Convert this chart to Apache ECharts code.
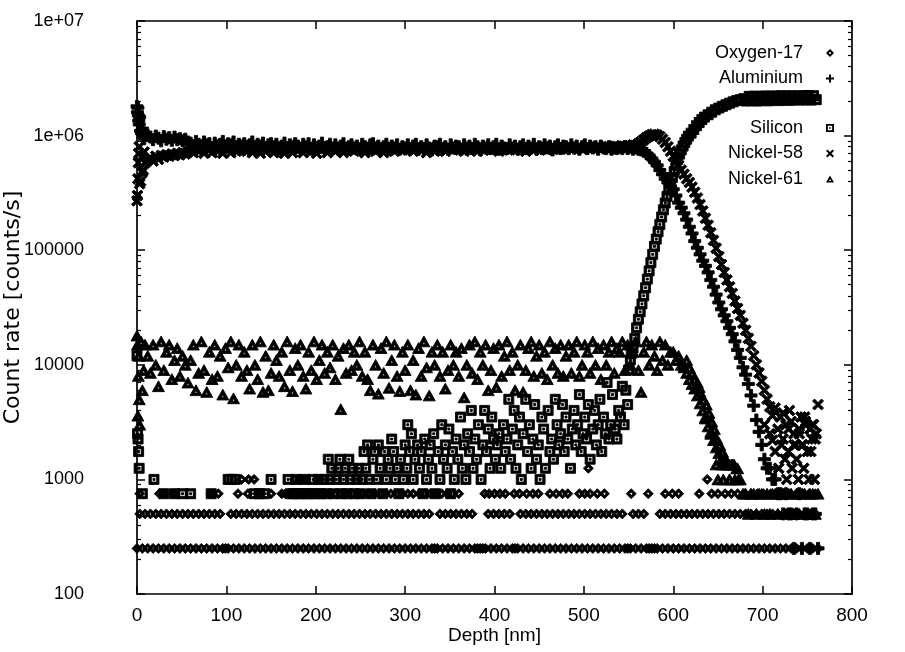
<!DOCTYPE html>
<html><head><meta charset="utf-8">
<script src="https://cdn.jsdelivr.net/npm/echarts@6/dist/echarts.min.js"></script>
<style>html,body{margin:0;padding:0;background:#fff}#c{width:905px;height:652px}</style>
</head><body><div id="c"></div>
<script>
// depth grid [nm]
const depthGrid = [
0,3,6,9,12,15,18,21,24,27,30,33,36,39,42,45,48,51,54,57,
60,63,66,69,72,75,78,81,84,87,90,93,96,99,102,105,108,111,114,117,
120,123,126,129,132,135,138,141,144,147,150,153,156,159,162,165,168,171,174,177,
180,183,186,189,192,195,198,201,204,207,210,213,216,219,222,225,228,231,234,237,
240,243,246,249,252,255,258,261,264,267,270,273,276,279,282,285,288,291,294,297,
300,303,306,309,312,315,318,321,324,327,330,333,336,339,342,345,348,351,354,357,
360,363,366,369,372,375,378,381,384,387,390,393,396,399,402,405,408,411,414,417,
420,423,426,429,432,435,438,441,444,447,450,453,456,459,462,465,468,471,474,477,
480,483,486,489,492,495,498,501,504,507,510,513,516,519,522,525,528,531,534,537,
540,543,546,549,552,555,558,561,564,567,570,573,576,579,582,585,588,591,594,597,
600,603,606,609,612,615,618,621,624,627,630,633,636,639,642,645,648,651,654,657,
660,663,666,669,672,675,678,681,684,687,690,693,696,699,702,705,708,711,714,717,
720,723,726,729,732,735,738,741,744,747,750,753,756,759,762];

const oxygenRate = [
250,500,250,500,250,500,250,500,250,500,250,500,250,500,250,500,250,500,250,500,
250,500,250,500,250,500,250,500,250,500,250,500,250,250,250,500,250,500,250,500,
250,500,250,500,250,500,250,500,250,500,250,500,250,500,250,500,250,500,250,500,
250,500,250,500,250,500,250,500,250,500,250,500,250,500,250,500,250,500,250,500,
250,500,250,500,250,500,250,500,250,500,250,500,250,500,250,500,250,500,250,500,
250,500,250,500,250,500,250,500,250,500,250,250,250,500,250,500,250,500,250,500,
250,500,250,500,250,500,250,250,250,250,250,500,250,500,250,500,250,500,250,500,
250,250,250,500,250,500,250,500,250,500,250,500,250,500,250,500,250,500,250,500,
250,500,250,500,250,500,250,500,250,500,250,500,250,500,250,500,250,500,250,500,
250,500,250,250,250,500,250,500,250,500,250,250,250,250,250,500,250,500,250,500,
250,500,250,500,250,500,250,500,250,500,250,500,250,500,250,500,250,500,250,500,
250,500,250,500,250,500,250,500,250,500,250,500,250,500,250,500,250,500,250,500,
250,500,250,500,250,500,250,500,250,500,250,500,250,500,250];

const oxygenExtraPoints = [
[3,750],[25,750],[30,750],[42,750],[83,750],[91,750],[113,750],[124,750],[150,750],[162,750],
[166,750],[172,750],[178,750],[184,750],[191,750],[197,750],[203,750],[209,750],[216,750],[222,750],
[228,750],[234,750],[241,750],[247,750],[253,750],[259,750],[266,750],[272,750],[278,750],[284,750],
[291,750],[297,750],[303,750],[309,750],[316,750],[322,750],[328,750],[334,750],[341,750],[347,750],
[353,750],[360,750],[389,750],[394,750],[400,750],[406,750],[412,750],[422,750],[428,750],[436,750],
[443,750],[449,750],[462,750],[469,750],[476,750],[482,750],[495,750],[501,750],[507,750],[515,750],
[523,750],[553,750],[572,750],[591,750],[599,750],[606,750],[629,750],[643,750],[650,750],[658,750],
[665,750],[672,750],[680,750],[687,750],[694,750],[701,750],[709,750],[716,750],[723,750],[731,750],
[738,750],[745,750],[752,750],[759,750],
[117,1000],[125,1000],[131,1000],[176,1000],[182,1000],[188,1000],[638,1000],[505,1250]];

const aluminiumRate = [
1.8e6,1.45e6,1.15e6,1.02e6,1.0e6,9.7e5,9.2e5,9.9e5,9.5e5,9.0e5,9.8e5,9.3e5,9.6e5,9.1e5,9.7e5,9.2e5,9.4e5,9.0e5,9.3e5,8.8e5,
8.6e5,8.1e5,8.9e5,8.4e5,8.0e5,8.8e5,8.3e5,8.5e5,7.8e5,8.6e5,8.1e5,8.4e5,8.9e5,8.0e5,8.5e5,8.3e5,8.8e5,7.8e5,8.4e5,8.1e5,
8.5e5,8.0e5,8.3e5,8.8e5,7.7e5,8.4e5,8.1e5,8.6e5,7.8e5,8.3e5,8.5e5,8.0e5,8.4e5,7.6e5,8.1e5,8.6e5,7.8e5,8.3e5,8.0e5,8.5e5,
8.1e5,7.7e5,8.4e5,8.0e5,8.5e5,7.6e5,8.3e5,7.8e5,8.1e5,8.6e5,7.7e5,8.0e5,8.4e5,7.8e5,8.3e5,7.6e5,8.1e5,8.5e5,7.7e5,8.0e5,
8.3e5,7.8e5,8.1e5,7.6e5,8.4e5,8.0e5,7.7e5,8.3e5,8.5e5,7.8e5,8.1e5,7.5e5,8.0e5,8.4e5,7.7e5,8.1e5,7.8e5,8.3e5,7.6e5,8.0e5,
7.8e5,8.3e5,7.7e5,8.1e5,8.4e5,7.6e5,8.0e5,7.7e5,8.3e5,7.8e5,7.5e5,8.1e5,8.0e5,8.4e5,7.7e5,8.0e5,7.6e5,8.3e5,7.8e5,8.1e5,
8.0e5,7.6e5,8.3e5,7.8e5,8.1e5,7.7e5,8.4e5,8.0e5,7.5e5,8.1e5,7.8e5,8.3e5,7.7e5,8.0e5,8.4e5,7.6e5,8.1e5,7.8e5,7.7e5,8.3e5,
7.8e5,8.1e5,7.6e5,8.0e5,8.3e5,7.7e5,8.1e5,7.8e5,8.4e5,7.6e5,8.0e5,7.7e5,8.3e5,7.8e5,8.1e5,7.5e5,8.0e5,8.3e5,7.7e5,8.1e5,
8.0e5,7.7e5,8.3e5,7.8e5,8.1e5,7.6e5,8.0e5,8.3e5,7.7e5,8.1e5,7.8e5,8.0e5,7.6e5,8.1e5,7.8e5,7.7e5,8.0e5,7.6e5,7.8e5,7.7e5,
7.9e5,7.7e5,8.0e5,7.7e5,7.9e5,7.6e5,7.8e5,7.6e5,7.5e5,7.3e5,7.0e5,6.7e5,6.3e5,5.9e5,5.5e5,5.0e5,4.6e5,4.2e5,3.9e5,3.6e5,
3.4e5,3.0e5,2.6e5,2.35e5,2.1e5,1.85e5,1.6e5,1.4e5,1.2e5,1.05e5,9.2e4,8.1e4,7.3e4,6.4e4,5.5e4,4.8e4,4.1e4,3.5e4,3.05e4,2.7e4,
2.4e4,2.1e4,1.85e4,1.6e4,1.35e4,1.15e4,9.5e3,8.2e3,6.8e3,5.4e3,4.4e3,3.3e3,2.6e3,2.0e3,1.5e3,1250,1250,1000,1000,750,
750,500,750,500,500,250,500,750,250,500,500,250,500,500,250];

const aluminiumSurfacePoints = [[0.5,1.6e6],[1,1.75e6],[1.5,1.5e6],[2,1.35e6],[2.5,1.25e6],[4,1.1e6],[5,1.05e6],[7,9.8e5],[8,9.4e5]];

const siliconPoints = [
[0,12000],[0.6,2500],[1.2,2250],[1.8,1750],[2.4,1250],[6,750],[19,1000],[30,750],[42,750],[51,750],[60,750],[83,750],[102,1000],[106,1000],[110,1000],[131,750],[137,750],[143,750],[150,1000],[169,1000],
[172,750],[175,750],[178,1000],[181,750],[184,750],[188,1000],[191,750],[194,750],[197,1000],[200,750],[203,1000],[206,750],
[209,1000],[212,750],[214,1500],[216,1000],[218,1250],[220,750],[223,1000],[225,1250],[227,1500],[229,750],[231,1000],[233,1250],[235,750],[237,1500],[239,1000],[241,1250],[243,750],[246,1000],[248,1250],[250,750],[252,1000],[254,1750],[256,1250],[258,2000],[260,1000],
[262,750],[264,1500],[266,1750],[268,1000],[270,2000],[272,1250],[275,750],[277,1750],[279,1000],[281,1500],[283,1250],[285,2250],[287,1750],[289,1000],[291,1250],[293,750],[295,1500],[298,1000],[300,2000],[302,1250],[303,3000],[305,1750],[307,2500],[309,1000],[311,1500],[314,2000],[316,1250],[318,1750],[320,750],[322,2250],[324,1000],[326,1500],[328,2000],
[330,1250],[332,2500],[334,750],[337,1750],[339,1000],[341,3000],[343,1500],[345,2000],[347,1250],[349,2750],[351,750],[353,1750],[355,1000],[357,2250],[359,1500],[362,3500],[364,1250],[366,2000],[368,1000],[370,2500],[372,1750],[374,4000],[376,1250],[378,2250],[380,1500],[382,3000],[385,1000],[387,2000],[389,4000],[391,1750],[393,2750],[395,1250],[397,3500],[399,2250],[401,1500],[403,2000],[405,2500],[407,1250],[410,3000],[412,1750],[414,2250],[416,5000],
[418,1500],[420,2750],[422,4000],[424,1250],[426,2000],[428,3500],[430,1000],[432,2500],[435,5000],[437,1750],[439,3000],[441,1250],[443,2250],[445,4500],[447,1500],[449,2000],[451,1000],[453,3500],[455,2750],[457,1250],[460,4000],[462,1750],[464,2250],[466,1500],[468,5000],[470,3000],[472,2000],[474,2500],[476,4500],[478,1750],[480,3500],[482,2250],[485,1250],[487,2750],[489,4000],
[491,2000],[493,3000],[495,5500],[497,1750],[499,2500],[501,3500],[503,2250],[505,4500],[507,1500],[510,2750],[512,4000],[514,2000],[516,3000],[518,5000],[520,1750],[522,3500],[524,2500],[526,7000],[528,2250],[530,3000],[532,5500],[535,2750],[537,2250],[539,4000],[541,3500],[543,6500],[545,3000],[547,6000],[549,4500],
[550,9000],[552,11000],[553,12500],[555,14000],[557,17000],[559,21000],[561,25000],[563,29000],[565,34000],[567,40000],[569,47000],[571,56000],[573,66000],[575,78000],[577,92000],[579,1.08e5],[581,1.25e5],[583,1.45e5],[585,1.68e5],[587,1.95e5],[589,2.25e5],[591,2.58e5],[593,2.95e5],[595,3.35e5],[597,3.8e5],[599,4.3e5],[601,4.85e5],[603,5.5e5],[605,6.2e5],[607,6.9e5],[609,7.5e5],[611,8.1e5],[613,8.7e5],[615,9.3e5],[617,9.9e5],[620,1.05e6],[623,1.13e6],[626,1.22e6],[629,1.3e6],[632,1.38e6],[635,1.45e6],[639,1.52e6],[643,1.6e6],[647,1.68e6],[651,1.74e6],[655,1.8e6],[659,1.86e6],[663,1.92e6],[667,1.97e6],[671,2.02e6],[675,2.06e6],[679,2.1e6],
[682,2.0e6],[685,2.2e6],[688,2.02e6],[691,2.21e6],[694,2.0e6],[697,2.2e6],[700,2.03e6],[703,2.22e6],[706,2.01e6],[709,2.21e6],[712,2.04e6],[715,2.22e6],[718,2.02e6],[721,2.23e6],[724,2.04e6],[727,2.22e6],[730,2.03e6],[733,2.23e6],[736,2.05e6],[739,2.22e6],[742,2.04e6],[745,2.23e6],[748,2.05e6],[751,2.24e6],[754,2.04e6],[757,2.23e6],[760,2.06e6]];

const nickel58Rate = [
2.7e5,3.8e5,4.8e5,5.8e5,6.1e5,6.4e5,6.0e5,6.6e5,6.2e5,6.7e5,6.5e5,6.8e5,6.6e5,6.9e5,6.7e5,7.0e5,6.8e5,7.1e5,6.9e5,7.2e5,
7.5e5,7.1e5,7.7e5,7.3e5,7.6e5,7.0e5,7.8e5,7.5e5,7.1e5,7.7e5,7.3e5,7.6e5,7.0e5,7.7e5,7.5e5,7.1e5,7.8e5,7.3e5,7.6e5,7.5e5,
7.6e5,7.3e5,7.8e5,7.1e5,7.5e5,7.7e5,7.0e5,7.6e5,7.3e5,7.9e5,7.5e5,7.1e5,7.7e5,7.3e5,7.6e5,7.0e5,7.8e5,7.5e5,7.1e5,7.7e5,
7.5e5,7.7e5,7.1e5,7.6e5,7.9e5,7.3e5,7.6e5,7.0e5,7.8e5,7.5e5,7.7e5,7.1e5,7.6e5,7.8e5,7.3e5,7.6e5,7.9e5,7.1e5,7.5e5,7.7e5,
7.6e5,7.3e5,7.8e5,7.5e5,7.7e5,7.1e5,7.9e5,7.5e5,7.6e5,7.3e5,7.8e5,7.6e5,7.1e5,7.7e5,7.5e5,7.9e5,7.3e5,7.6e5,7.8e5,7.5e5,
7.7e5,7.5e5,7.9e5,7.3e5,7.6e5,7.8e5,7.5e5,7.7e5,7.1e5,7.9e5,7.6e5,7.3e5,7.8e5,7.5e5,7.7e5,7.3e5,7.9e5,7.6e5,7.5e5,7.8e5,
7.6e5,7.8e5,7.3e5,7.7e5,7.5e5,7.9e5,7.6e5,7.3e5,7.8e5,7.5e5,7.7e5,7.9e5,7.5e5,7.6e5,7.8e5,7.3e5,7.7e5,7.6e5,7.9e5,7.5e5,
7.7e5,7.5e5,7.9e5,7.6e5,7.8e5,7.3e5,7.7e5,7.9e5,7.5e5,7.8e5,7.6e5,7.7e5,8.0e5,7.5e5,7.8e5,7.6e5,7.7e5,7.9e5,7.6e5,7.8e5,
7.7e5,7.9e5,7.6e5,7.8e5,7.7e5,8.0e5,7.6e5,7.8e5,7.9e5,7.7e5,7.9e5,7.8e5,8.0e5,7.7e5,7.9e5,7.8e5,8.0e5,7.9e5,8.1e5,8.0e5,
7.9e5,8.1e5,8.0e5,8.2e5,8.1e5,8.3e5,8.2e5,8.5e5,8.8e5,9.2e5,9.6e5,9.9e5,1.02e6,1.03e6,1.01e6,9.8e5,9.3e5,8.7e5,8.0e5,7.3e5,
6.6e5,6.0e5,5.5e5,5.0e5,4.6e5,4.2e5,3.9e5,3.55e5,3.2e5,2.85e5,2.5e5,2.2e5,1.9e5,1.65e5,1.42e5,1.22e5,1.04e5,8.8e4,7.5e4,6.4e4,
5.5e4,4.8e4,4.2e4,3.6e4,3.1e4,2.7e4,2.3e4,2.0e4,1.7e4,1.45e4,1.2e4,1.0e4,8.5e3,7.2e3,6.0e3,5.0e3,4.3e3,3.6e3,4.2e3,2.75e3,
3.5e3,2.25e3,3.0e3,1.75e3,3.2e3,2.5e3,1.5e3,2.75e3,2.0e3,3.5e3,1.75e3,2.75e3,3.0e3,2.25e3,4.5e3];

const nickel58ExtraPoints = [
[0.5,3.0e5],[1,4.2e5],[1.5,5.8e5],[2,7.0e5],[2.5,8.0e5],[4,4.0e5],[5,6.5e5],[7,5.0e5],[8,7.2e5],
[702,3.0e3],[708,2.5e3],[711,2.2e3],[714,1.75e3],[718,1.25e3],[721,2.0e3],[723,3.8e3],[725,1.5e3],[727,1000],[729,2.75e3],[730,4.0e3],[733,1.25e3],[735,2.0e3],[737,2.0e3],[740,1000],[741,2.5e3],[743,3.5e3],[745,2.0e3],[746,1.25e3],[748,3.2e3],[749,3.0e3],[752,1000],[754,1.75e3],[755,2.25e3],[757,3.0e3],[758,1000],[760,2.5e3]];

const nickel61Rate = [
1.8e4,3.0e3,6.0e3,1.5e4,1.2e4,8.5e3,1.5e4,1.0e4,6.5e3,1.6e4,9.0e3,1.3e4,1.5e4,7.5e3,1.1e4,1.4e4,8.0e3,1.2e4,1.0e4,7.0e3,
1.1e4,1.5e4,6.0e3,8.5e3,1.6e4,9.0e3,5.8e3,1.3e4,7.5e3,1.5e4,8.0e3,1.2e4,5.5e3,1.4e4,9.5e3,1.6e4,5.1e3,1.0e4,1.5e4,8.0e3,
1.3e4,9.0e3,6.2e3,1.5e4,1.0e4,7.5e3,1.6e4,5.8e3,1.2e4,6.0e3,8.5e3,1.5e4,1.1e4,8.0e3,1.3e4,6.5e3,1.6e4,9.0e3,5.9e3,1.4e4,
1.0e4,1.5e4,8.0e3,6.2e3,1.3e4,9.0e3,1.6e4,7.5e3,1.1e4,1.5e4,8.5e3,1.3e4,9.5e3,1.5e4,7.5e3,1.2e4,4.1e3,1.4e4,8.5e3,1.5e4,
9.0e3,1.3e4,1.0e4,1.6e4,8.0e3,1.3e4,7.5e3,6.0e3,1.5e4,1.0e4,5.6e3,1.4e4,8.5e3,1.6e4,6.3e3,1.1e4,1.5e4,8.0e3,5.9e3,1.3e4,
9.0e3,1.5e4,6.0e3,1.1e4,5.5e3,1.4e4,8.0e3,1.6e4,9.5e3,5.4e3,1.3e4,1.0e4,1.5e4,8.0e3,1.3e4,6.2e3,9.0e3,1.5e4,1.0e4,1.3e4,
8.0e3,1.4e4,5.2e3,1.0e4,1.5e4,8.5e3,1.6e4,7.5e3,1.3e4,1.0e4,1.5e4,6.0e3,9.0e3,1.4e4,6.4e3,1.5e4,8.0e3,1.2e4,1.6e4,9.0e3,
1.3e4,6.0e3,1.0e4,1.5e4,5.8e3,9.0e3,1.4e4,1.6e4,8.0e3,1.2e4,1.5e4,8.5e3,1.3e4,7.5e3,1.6e4,1.0e4,1.4e4,8.5e3,1.5e4,8.0e3,
1.2e4,1.5e4,8.5e3,1.3e4,1.6e4,8.0e3,1.0e4,1.5e4,1.3e4,8.5e3,1.6e4,1.0e4,1.4e4,7.5e3,1.5e4,1.0e4,1.3e4,1.6e4,8.5e3,1.4e4,
1.3e4,1.6e4,9.0e3,1.5e4,1.0e4,1.3e4,1.6e4,9.0e3,5.8e3,1.3e4,1.6e4,1.0e4,1.5e4,1.2e4,9.0e3,1.6e4,1.1e4,1.5e4,1.0e4,1.3e4,
1.3e4,1.1e4,1.2e4,1.0e4,9.5e3,8.5e3,7.5e3,6.8e3,6.2e3,5.4e3,4.6e3,4.0e3,3.4e3,2.9e3,2.6e3,2.2e3,1.9e3,1.7e3,1.5e3,1.35e3,
1.35e3,1000,1.35e3,1000,1.25e3,1000,750,750,500,750,750,500,750,750,500,750,500,750,750,500,
750,750,500,750,750,500,750,500,750,750,500,750,750,500,750];

const nickel61ExtraPoints = [
[0.5,1.5e4],[1,3.6e3],[1.5,8.0e3],[2,1.2e4],[2.5,5.0e3],[4.5,1.6e4],[7.5,9.0e3],
[615,1.1e4],[618,9.5e3],[621,8.5e3],[624,7.5e3],[627,7.0e3],[629,6.4e3],[630,5.8e3],[634,5.0e3],[636,3.5e3],[637,4.5e3],[640,3.8e3],[642,2.5e3],[643,3.2e3],[646,2.75e3],[648,1.35e3],[649,2.25e3],[650,1000],[652,2.0e3],[654,1.35e3],[655,1.75e3],[656,1000],[659,1.5e3],[662,1.35e3],[663,1000],[665,1.35e3],[668,1.35e3],[671,1.25e3],[673,1000]];

const xTickValues = [0,100,200,300,400,500,600,700,800];
const yTickLabels = ['100','1000','10000','100000','1e+06','1e+07'];
const seriesNames = ['Oxygen-17','Aluminium','Silicon','Nickel-58','Nickel-61'];

const FONT = '"Liberation Sans", Arial, Helvetica, sans-serif';
const FONT_WIDE = '"DejaVu Sans", "Liberation Sans", sans-serif';
const SYM = {
  diamond: 'path://M5,0L10,5L5,10L0,5Z M5,3.4L3.4,5L5,6.6L6.6,5Z',
  plus: 'path://M3.7,0H6.3V3.7H10V6.3H6.3V10H3.7V6.3H0V3.7H3.7Z',
  square: 'path://M0,0H10V10H0Z M2.3,2.3V7.7H7.7V2.3Z M4,4H6V6H4Z',
  cross: 'path://M0,1.8L1.8,0L5,3.2L8.2,0L10,1.8L6.8,5L10,8.2L8.2,10L5,6.8L1.8,10L0,8.2L3.2,5Z',
  triangle: 'path://M5,0L10,9L0,9Z M5,4.6L3.8,6.9L6.2,6.9Z'
};

function onGrid(rates) {
  const out = [];
  for (let i = 0; i < depthGrid.length; i++) {
    if (rates[i] != null) out.push([depthGrid[i], rates[i]]);
  }
  return out;
}

const axisLineStyle = { color: '#000', width: 1.7 };
const tickStyle = { show: true, inside: true, length: 8, lineStyle: { color: '#000', width: 1.5 } };
const minorTickStyle = { show: true, splitNumber: 9, length: 4, lineStyle: { color: '#000', width: 1.2 } };
const tickText = { color: '#000', fontFamily: FONT, fontSize: 18 };

function mkSeries(name, symbol, size, data) {
  return {
    name, type: 'scatter', symbol, symbolSize: size, symbolKeepAspect: true,
    itemStyle: { color: '#000', borderColor: '#000', borderWidth: 0.9, opacity: 1 },
    data, silent: true, animation: false, emphasis: { disabled: true }, large: false
  };
}

const legendText = { color: '#000', fontFamily: FONT, fontSize: 18, lineHeight: 20, padding: [0, 18, 0, 0] };
const legendBase = { orient: 'vertical', align: 'right', right: 66, itemWidth: 8, itemHeight: 8, itemGap: 5.5,
  selectedMode: false, textStyle: legendText, itemStyle: { borderWidth: 0 } };

const chart = echarts.init(document.getElementById('c'), null, { renderer: 'canvas' });
chart.setOption({
  backgroundColor: '#fff',
  animation: false,
  grid: { left: 137, right: 53, top: 21, bottom: 58, containLabel: false, outerBoundsMode: 'none' },
  legend: [
    Object.assign({ data: [seriesNames[0], seriesNames[1]], top: 38 }, legendBase),
    Object.assign({ data: [seriesNames[2], seriesNames[3], seriesNames[4]], top: 113 }, legendBase)
  ],
  xAxis: [
    { type: 'value', position: 'bottom', min: xTickValues[0], max: xTickValues[xTickValues.length - 1], interval: 100,
      axisLine: { show: true, onZero: false, lineStyle: axisLineStyle }, axisTick: tickStyle,
      axisLabel: Object.assign({ margin: 12 }, tickText, { fontSize: 19 }), splitLine: { show: false },
      name: 'Depth [nm]', nameLocation: 'middle', nameGap: 32, nameMoveOverlap: false,
      nameTextStyle: { color: '#000', fontFamily: FONT, fontSize: 19 } },
    { type: 'value', position: 'top', min: xTickValues[0], max: xTickValues[xTickValues.length - 1], interval: 100,
      axisLine: { show: true, onZero: false, lineStyle: axisLineStyle }, axisTick: tickStyle,
      axisLabel: { show: false }, splitLine: { show: false } }
  ],
  yAxis: [
    { type: 'log', logBase: 10, position: 'left', min: 100, max: 1e7,
      axisLine: { show: true, onZero: false, lineStyle: axisLineStyle }, axisTick: tickStyle,
      minorTick: minorTickStyle, minorSplitLine: { show: false },
      axisLabel: Object.assign({ margin: 53, formatter: v => yTickLabels[Math.round(Math.log10(v)) - 2] }, tickText),
      splitLine: { show: false },
      name: 'Count rate [counts/s]', nameLocation: 'middle', nameGap: 113, nameRotate: 90, nameMoveOverlap: false,
      nameTextStyle: { color: '#000', fontFamily: FONT_WIDE, fontSize: 22 } },
    { type: 'log', logBase: 10, position: 'right', min: 100, max: 1e7,
      axisLine: { show: true, onZero: false, lineStyle: axisLineStyle }, axisTick: tickStyle,
      minorTick: minorTickStyle, minorSplitLine: { show: false },
      axisLabel: { show: false }, splitLine: { show: false } }
  ],
  series: [
    mkSeries(seriesNames[0], SYM.diamond, 10, onGrid(oxygenRate).concat(oxygenExtraPoints)),
    mkSeries(seriesNames[1], SYM.plus, 12, onGrid(aluminiumRate).concat(aluminiumSurfacePoints)),
    mkSeries(seriesNames[2], SYM.square, 10, siliconPoints),
    mkSeries(seriesNames[3], SYM.cross, 11, onGrid(nickel58Rate).concat(nickel58ExtraPoints)),
    mkSeries(seriesNames[4], SYM.triangle, 12, onGrid(nickel61Rate).concat(nickel61ExtraPoints))
  ]
});
</script>
</body></html>
